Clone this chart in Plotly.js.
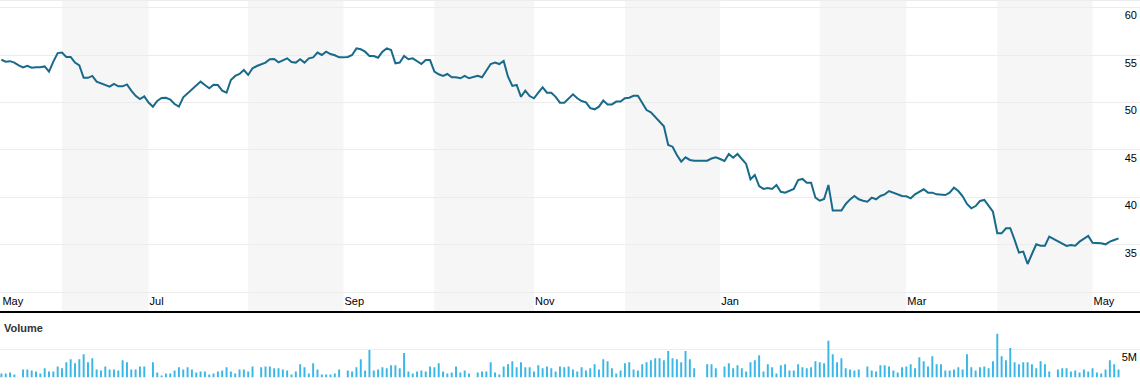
<!DOCTYPE html>
<html>
<head>
<meta charset="utf-8">
<script src="https://cdn.plot.ly/plotly-3.0.1.min.js"></script>
<style>html,body{margin:0;padding:0;background:#fff;}#chart{width:1140px;height:392px;}</style>
</head>
<body>
<div id="chart"></div>
<script>
// First trading day of the series; one value per weekday after it
const startDate = '2013-05-14';

// Closing price (USD)
const price = [
 54.5, 54.3, 54.35, 54.2, 53.9, 53.7, 53.87, 53.66, 53.7, 53.7,
 53.8, 53.25, 54.3, 55.2, 55.25, 54.8, 54.8, 54.2, 53.9, 52.6,
 52.6, 52.8, 52.2, 52.05, 51.85, 51.67, 51.95, 51.7, 51.7, 51.9,
 51.25, 50.7, 50.37, 50.65, 50.0, 49.56, 50.16, 50.47, 50.5, 50.3,
 49.84, 49.56, 50.55, 50.97, 51.4, 51.74, 52.2, 51.84, 51.5, 51.87,
 51.84, 51.25, 51.03, 52.37, 52.8, 53.0, 53.42, 52.9, 53.6, 53.84,
 54.0, 54.2, 54.55, 54.58, 54.23, 54.4, 54.65, 54.26, 54.2, 54.55,
 54.2, 54.65, 54.75, 55.25, 55.0, 55.35, 55.1, 54.97, 54.75, 54.75,
 54.8, 55.0, 55.7, 55.6, 55.35, 54.9, 54.9, 54.72, 55.35, 55.7,
 55.53, 54.13, 54.2, 54.9, 54.55, 54.65, 54.37, 54.05, 54.47, 54.47,
 53.25, 52.97, 52.8, 53.0, 52.65, 52.65, 52.55, 52.8, 52.55, 52.65,
 52.8, 52.65, 53.42, 54.05, 54.2, 54.05, 54.37, 52.72, 51.74, 51.84,
 50.6, 51.25, 50.68, 50.44, 51.03, 51.6, 51.03, 51.03, 50.6, 49.98,
 49.98, 50.44, 50.86, 50.44, 50.16, 50.02, 49.4, 49.28, 49.56, 50.2,
 49.8, 49.8, 50.1, 50.1, 50.44, 50.5, 50.7, 50.7, 49.98, 49.2,
 48.97, 48.5, 48.08, 47.5, 45.53, 45.35, 44.47, 43.77, 44.23, 43.95,
 43.87, 43.87, 43.87, 43.87, 44.1, 44.23, 44.05, 43.84, 44.58, 44.19,
 44.58, 44.02, 43.53, 41.92, 42.37, 41.2, 40.9, 41.0, 40.9, 41.32,
 40.6, 40.5, 40.72, 40.89, 41.84, 41.95, 41.56, 41.56, 39.98, 39.66,
 39.84, 41.32, 38.62, 38.62, 38.62, 39.32, 39.8, 40.16, 39.81, 39.66,
 39.56, 39.98, 39.81, 40.16, 40.33, 40.68, 40.51, 40.33, 40.16, 40.12,
 39.91, 40.33, 40.6, 40.86, 40.51, 40.51, 40.33, 40.26, 40.26, 40.5,
 41.03, 40.68, 40.12, 39.32, 38.86, 39.1, 39.63, 39.74, 39.1, 38.5,
 36.23, 36.23, 36.76, 36.76, 35.53, 34.2, 34.3, 33.0, 34.05, 35.07,
 34.93, 34.93, 35.88, 35.63, 35.42, 35.18, 34.9, 35.0, 34.93, 35.35,
 35.63, 35.95, 35.24, 35.24, 35.18, 35.07, 35.35, 35.53, 35.7
];

// Daily volume (millions of shares); null = no bar
const volumeM = [
 0.73, 0.73, 0.91, 0.55, null, 1.46, 1.46, 1.28, 1.1, 0.73,
 1.65, 1.1, 1.1, 2.0, 1.65, 2.74, 3.3, 2.56, 3.3, 4.2,
 2.74, 3.48, 1.46, 1.28, 2.0, 1.46, 1.46, 1.28, 3.1, 2.74,
 1.46, 1.46, 2.0, 2.0, null, 2.74, 0.91, 0.37, 0.73, 0.73,
 1.28, 1.83, 1.46, 1.83, 1.46, 0.91, 1.1, 1.1, 0.55, 0.73,
 1.1, 1.28, 1.83, 1.1, 0.73, 1.46, 1.46, 1.1, 2.0, null,
 1.83, 2.0, 2.0, 1.65, 1.65, 1.46, 1.28, 0.55, 1.1, 2.38,
 1.83, 0.73, 2.56, 1.46, 0.55, 0.55, 0.55, 0.73, 1.46, null,
 1.28, 1.1, 1.83, 3.3, 1.28, 4.94, 1.28, 1.46, 1.83, 1.65,
 2.2, 2.2, 1.65, 4.39, 1.1, 0.73, 1.1, 1.28, 1.1, 2.0,
 1.83, 2.56, 1.1, 0.73, 0.91, 2.0, 0.91, 1.28, 0.73, null,
 0.91, 1.1, 1.1, 2.74, 0.91, 0.55, 2.0, 2.38, 2.93, 1.83,
 2.74, 1.83, 1.83, 1.1, 2.2, 1.65, 2.0, 1.65, 1.1, 2.0,
 1.83, 2.0, 1.46, 1.1, 1.83, 1.28, 1.65, 2.38, 1.46, 3.3,
 2.93, 1.65, 0.73, 1.28, 2.56, 2.74, 1.46, 1.28, 2.38, 2.74,
 3.1, 3.48, 3.48, 3.1, 4.76, 3.48, 3.3, 2.74, 4.76, 3.3,
 1.65, null, null, 2.38, 2.38, 1.65, null, 2.0, 2.56, 1.65,
 2.2, 1.65, 1.1, 2.74, 3.1, 4.0, 1.1, 2.38, 1.83, 0.73,
 2.2, 2.38, 1.28, 1.28, 2.38, 1.83, 1.65, 1.83, 2.93, 2.74,
 2.56, 6.6, 4.2, 2.74, 3.48, 1.65, 1.46, 1.28, 1.46, null,
 2.0, 1.28, 1.1, 2.2, 2.2, 2.0, 1.28, 0.91, 1.83, 2.0,
 2.38, 1.65, 3.66, 2.93, 2.0, 3.84, 2.38, 2.38, 1.28, 1.28,
 1.46, 1.83, 1.46, 4.2, 1.83, 1.28, 1.83, 2.0, 1.65, 2.93,
 7.88, 3.84, 3.1, 5.3, 2.74, 2.38, 2.74, 2.74, 2.38, 1.65,
 2.93, 2.38, 1.1, null, 1.46, 1.65, 1.65, 1.1, 1.28, 0.91,
 1.46, 1.1, 1.65, 0.91, 0.73, 1.46, 3.1, 2.38, 1.46
];

// Month tick labels (first one marks the start of the window)
const tickDates = ['2013-05-14', '2013-07-01', '2013-09-02', '2013-11-01', '2014-01-01', '2014-03-03', '2014-05-01'];
const tickLabels = ['May', 'Jul', 'Sep', 'Nov', 'Jan', 'Mar', 'May'];

// Shaded (alternate) months: first and last+1 trading day
const bandStart = ['2013-06-03', '2013-08-01', '2013-10-01', '2013-12-02', '2014-02-03', '2014-04-01'];
const bandEnd   = ['2013-07-01', '2013-09-02', '2013-11-01', '2014-01-01', '2014-03-03', '2014-05-01'];

// Price axis ticks
const priceTicks = [30, 35, 40, 45, 50, 55, 60];
const priceTickText = ['', '35', '40', '45', '50', '55', '60'];

// ----- build weekday dates (placed at mid-day) -----
function weekdays(start, n) {
  const out = [];
  const d = new Date(start + 'T12:00:00Z');
  while (out.length < n) {
    const w = d.getUTCDay();
    if (w !== 0 && w !== 6) out.push(d.toISOString().slice(0, 10) + ' 12:00');
    d.setUTCDate(d.getUTCDate() + 1);
  }
  return out;
}
const dates = weekdays(startDate, price.length);
const noon = s => s + ' 12:00';

const H = 392;
const priceDomain = [(H - 311) / H, 1];
const volDomain = [(H - 377.5) / H, (H - 333) / H];
const grid = '#ececec';

const traces = [
  {
    type: 'scatter', mode: 'lines', x: dates, y: price,
    xaxis: 'x', yaxis: 'y',
    line: {color: '#176a8a', width: 2}, hoverinfo: 'skip'
  },
  {
    type: 'bar', x: dates, y: volumeM,
    xaxis: 'x2', yaxis: 'y2',
    marker: {color: '#3ab7e7', line: {width: 0}}, hoverinfo: 'skip'
  }
];

const shapes = bandStart.map((s, k) => ({
  type: 'rect', xref: 'x', yref: 'paper',
  x0: noon(s), x1: noon(bandEnd[k]), y0: priceDomain[0], y1: 1,
  fillcolor: '#f6f6f6', line: {width: 0}, layer: 'below'
}));
shapes.push({type: 'line', xref: 'paper', yref: 'paper', x0: 0, x1: 1, y0: 0.9985, y1: 0.9985,
  line: {color: grid, width: 1}, layer: 'below'});

const rb = [{bounds: ['sat', 'mon']}];
const xr = ['2013-05-14 04:20', '2014-05-16 11:00'];

const layout = {
  width: 1140, height: 392,
  margin: {l: 0, r: 0, t: 0, b: 0, pad: 0},
  paper_bgcolor: '#fff', plot_bgcolor: 'rgba(0,0,0,0)',
  showlegend: false,
  bargap: 0.55,
  font: {family: 'Liberation Sans, Arial, sans-serif', size: 11, color: '#000'},
  xaxis: {
    type: 'date', range: xr, rangebreaks: rb, anchor: 'y',
    tickmode: 'array', tickvals: tickDates.map(noon), ticktext: tickLabels,
    ticklabelposition: 'inside right', ticks: '',
    showgrid: false, zeroline: false,
    showline: true, linecolor: '#000', linewidth: 2,
    tickfont: {size: 11, color: '#000'}, fixedrange: true
  },
  yaxis: {
    domain: priceDomain, range: [28.05, 60.79], side: 'right', anchor: 'x',
    tickmode: 'array', tickvals: priceTicks, ticktext: priceTickText,
    ticklabelposition: 'inside bottom', ticks: '',
    showgrid: true, gridcolor: grid, gridwidth: 1, zeroline: false, showline: false,
    tickfont: {size: 11, color: '#000'}, fixedrange: true
  },
  xaxis2: {
    type: 'date', matches: 'x', range: xr, rangebreaks: rb, anchor: 'y2',
    showticklabels: false, ticks: '', showgrid: false, zeroline: false, showline: false,
    fixedrange: true
  },
  yaxis2: {
    domain: volDomain, range: [0, 8.0], side: 'right', anchor: 'x2',
    tickmode: 'array', tickvals: [0, 5], ticktext: ['', '5M'],
    ticklabelposition: 'inside bottom', ticks: '',
    showgrid: true, gridcolor: grid, gridwidth: 1, zeroline: false, showline: false,
    tickfont: {size: 11, color: '#000'}, fixedrange: true
  },
  shapes: shapes,
  annotations: [{
    text: '<b>Volume</b>', xref: 'paper', yref: 'paper',
    x: 0, y: (H - 328) / H, xanchor: 'left', yanchor: 'middle', xshift: 2,
    showarrow: false, font: {size: 11, color: '#333'}
  }]
};

Plotly.newPlot('chart', traces, layout, {staticPlot: true, displayModeBar: false});
</script>
</body>
</html>
